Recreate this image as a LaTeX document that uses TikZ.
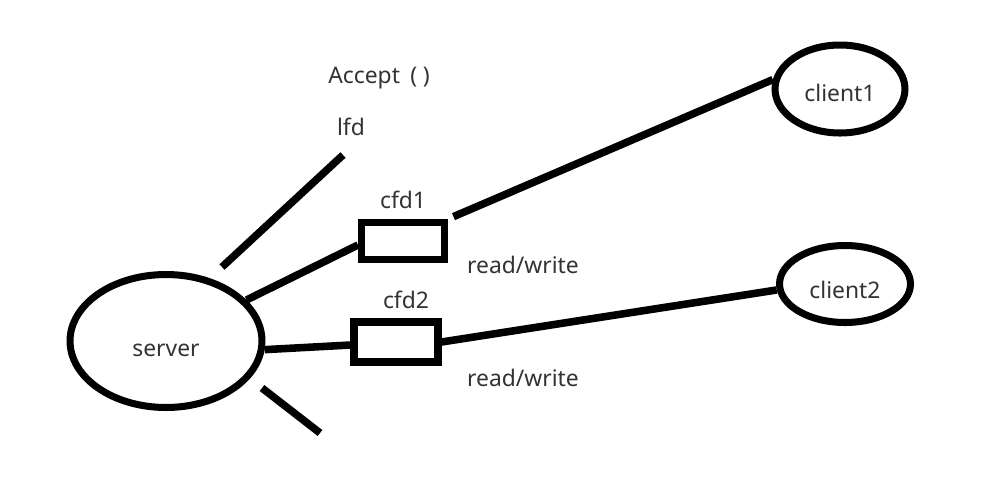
\documentclass[tikz,border=0pt]{standalone}
\usepackage{fontspec}
\setmainfont{Noto Sans}
\usetikzlibrary{positioning,shapes}

\begin{document}
\begin{tikzpicture}[
        x=0.02cm, y=-0.02cm,
        tag/.style={font=\fontsize{13}{13}\selectfont\color{black!80}, inner sep=0pt},
        host/.style={draw, ellipse, line width=4pt, inner sep=0pt},
        fdbox/.style={draw, rectangle, line width=4pt, inner sep=0pt},
        wire/.style={line width=4.3pt}
      ]
      \useasboundingbox (0,0) rectangle (988,478);

      \node (server) [host, minimum width=3.84cm, minimum height=2.66cm,
        label={[tag, yshift=-0.18cm]center:server}] at (166,341) {};
      \node (client1) [host, minimum width=2.6cm, minimum height=1.76cm,
        label={[tag, yshift=-0.08cm]center:client1}] at (840,89) {};
      \node (client2) [host, minimum width=2.62cm, minimum height=1.54cm,
        label={[tag, yshift=-0.12cm]center:client2}] at (845,284) {};

      \node (cfd1) [fdbox, minimum width=1.66cm, minimum height=0.74cm] at (403,241) {};
      \node (cfd2) [fdbox, minimum width=1.68cm, minimum height=0.8cm] at (396,342) {};
      \node (cfd1tag) [tag, above=0.2cm of cfd1] {cfd1};
      \node (cfd2tag) [tag, above=0.18cm of cfd2, xshift=0.2cm] {cfd2};

      \node (accept) [tag] at (379,78) {Accept\hspace{0.45em}(\hspace{0.25em})};
      \node (lfd) [tag] at (351,127) {lfd};
      \node (rw1) [tag] at (523,265) {read/write};
      \node (rw2) [tag] at (523,378) {read/write};

      \coordinate (lfdlow) at (222,267);
      \coordinate (lfdtop) at (343,155);
      \coordinate (stublow) at (320,433);
      \coordinate (stubtop) at (262,388);

      \draw[wire] (lfdlow) -- (lfdtop);
      \draw[wire] (stubtop) -- (stublow);
      \draw[wire] (server.27) -- ([yshift=-0.08cm]cfd1.west);
      \draw[wire, shorten <=0.12cm] (cfd1.north east) -- (client1.172);
      \draw[wire] (server.-5) -- ([yshift=-0.06cm]cfd2.west);
      \draw[wire] (cfd2.east) -- (client2.185);

    \end{tikzpicture}
\end{document}
